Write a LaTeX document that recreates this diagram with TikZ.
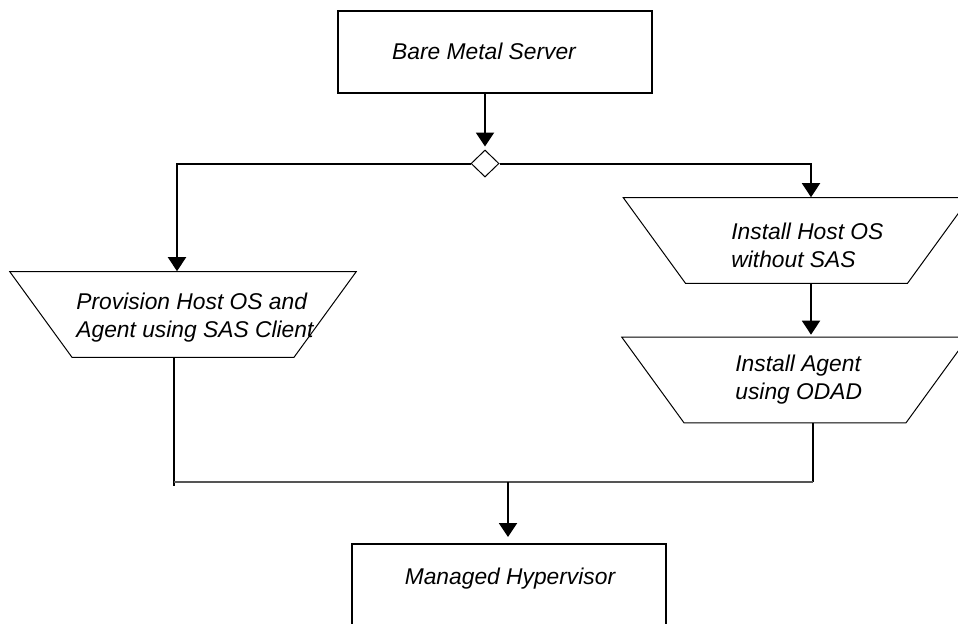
\documentclass[tikz,border=0pt]{standalone}
\usepackage{fontspec}
\setmainfont{Liberation Sans}
\usepackage{tikz}
\usetikzlibrary{shapes.geometric, arrows.meta, positioning, calc}
\definecolor{flowblack}{RGB}{0,0,0}
\definecolor{flowgray}{RGB}{85,85,85}
\tikzset{
  box/.style={rectangle, draw=flowblack, line width=1pt,
    minimum width=157pt, minimum height=41pt, inner sep=0pt},
  trap/.style={trapezium, draw=flowblack, line width=0.5pt,
    shape border rotate=180, trapezium left angle=54, trapezium right angle=54,
    minimum width=0pt, minimum height=0pt,
    inner xsep=55.5pt, inner ysep=21.4pt},
  decision/.style={diamond, draw=flowblack, fill=white, line width=0.5pt,
    minimum width=14pt, minimum height=13.5pt, inner sep=0pt},
  arrow/.style={-{Triangle[width=9pt,length=7pt]}, line width=1pt, color=flowblack},
  line/.style={line width=1pt, color=flowblack}
}

\begin{document}
\begin{tikzpicture}[x=0.5pt, y=-0.5pt,
  lbl/.style={font=\fontsize{11.4}{14}\selectfont\itshape, inner sep=0pt, align=left}
]
\useasboundingbox (0,0) rectangle (958,623);
\clip (0,0) rectangle (958,623);
% start
\node[box] (bare) at (495,52) {};
\node[lbl] (baretxt) at (484,51) {Bare Metal Server};
\node[decision] (fork) at (485,163.5) {};
% left branch
\node[trap] (prov) at (183,314.5) {};
\node[lbl, anchor=west] (provtxt) at (76,318) {Provision Host OS and\\Agent using SAS Client};
% right branch
\node[trap] (host) at (796.5,240.5) {};
\node[lbl, anchor=west] (hosttxt) at (731,245) {Install Host OS\\without SAS};
\node[trap] (agent) at (795,380) {};
\node[lbl, anchor=west] (agenttxt) at (735,380) {Install Agent\\using ODAD};
% end
\node[box, anchor=north] (hyper) at (509,543) {};
\node[lbl] (hypertxt) at (510,579) {Managed Hypervisor};
% connectors
\coordinate (lt) at (177,163.5);
\coordinate (rt) at (811,163.5);
\coordinate (jl) at (174,482);
\coordinate (jr) at (813,482);
\coordinate (jm) at (508,482);
\draw[arrow, shorten >=1.5pt] (fork |- bare.south) -- (fork.north);
\draw[arrow] (fork.west) -- (lt) -- (lt |- prov.north);
\draw[arrow] (fork.east) -- (rt) -- (rt |- host.north);
\draw[arrow, shorten >=1pt] (rt |- host.south) -- (rt |- agent.north);
\draw[line] (jl |- prov.south) -- ($(jl)+(0,4)$);
\draw[line] (jr |- agent.south) -- (jr);
\draw[line, color=flowgray] (jl) -- (jr);
\draw[arrow, shorten >=3pt] (jm) -- (jm |- hyper.north);
\end{tikzpicture}
\end{document}
